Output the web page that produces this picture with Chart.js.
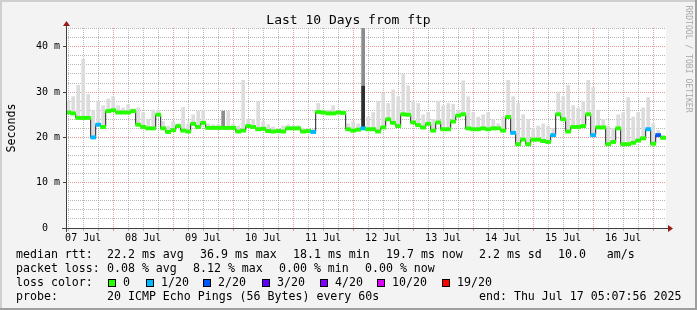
<!DOCTYPE html>
<html>
<head>
<meta charset="utf-8">
<script src="https://cdn.jsdelivr.net/npm/chart.js@4.4.1/dist/chart.umd.min.js"></script>
<style>
  html, body { margin: 0; padding: 0; background: #f3f3f3; overflow: hidden; }
  #wrap { position: relative; width: 697px; height: 310px; }
  #chart { position: absolute; left: 0; top: 0; }
  .t { position: absolute; font-family: 'DejaVu Sans Mono', monospace; font-size: 11.6px; line-height: 14px; white-space: pre; color: #000; }
  .box { position: absolute; width: 6px; height: 6px; border: 1px solid #000; top: 279px; }
</style>
</head>
<body>
<div id="wrap">
  <canvas id="chart" width="697" height="310"></canvas>
  <div class="t" style="left:0;width:697px;top:11.5px;text-align:center;font-size:13px;line-height:16px">Last 10 Days from ftp</div>
  <div class="t" style="left:-19px;top:120.5px;width:60px;text-align:center;transform:rotate(-90deg)">Seconds</div>
  <div class="t" style="left:629px;top:54px;width:120px;text-align:center;font-size:8.1px;line-height:10px;color:#a8a8a8;transform:rotate(90deg)">RRDTOOL / TOBI OETIKER</div>

  <div class="t" style="left:16px;top:247.3px">median rtt:</div>
  <div class="t" style="left:107px;top:247.3px">22.2 ms avg</div>
  <div class="t" style="left:200px;top:247.3px">36.9 ms max</div>
  <div class="t" style="left:293px;top:247.3px">18.1 ms min</div>
  <div class="t" style="left:386px;top:247.3px">19.7 ms now</div>
  <div class="t" style="left:479px;top:247.3px">2.2 ms sd</div>
  <div class="t" style="left:558px;top:247.3px">10.0   am/s</div>

  <div class="t" style="left:16px;top:261.3px">packet loss:</div>
  <div class="t" style="left:107px;top:261.3px">0.08 % avg</div>
  <div class="t" style="left:193px;top:261.3px">8.12 % max</div>
  <div class="t" style="left:279px;top:261.3px">0.00 % min</div>
  <div class="t" style="left:365px;top:261.3px">0.00 % now</div>

  <div class="t" style="left:16px;top:275.3px">loss color:</div>
  <div id="lossLegend"></div>

  <div class="t" style="left:16px;top:289.3px">probe:</div>
  <div class="t" style="left:107px;top:289.3px">20 ICMP Echo Pings (56 Bytes) every 60s</div>
  <div class="t" style="left:479px;top:289.3px">end: Thu Jul 17 05:07:56 2025</div>
</div>
<script>
"use strict";

// hours since 07 Jul 00:00
const hours = [6,8,10,12,14,16,18,20,22,24,26,28,30,32,34,36,38,40,42,44,
  46,48,50,52,54,56,58,60,62,64,66,68,70,72,74,76,78,80,82,84,
  86,88,90,92,94,96,98,100,102,104,106,108,110,112,114,116,118,120,122,124,
  126,128,130,132,134,136,138,140,142,144,146,148,150,152,154,156,158,160,162,164,
  166,168,170,172,174,176,178,180,182,184,186,188,190,192,194,196,198,200,202,204,
  206,208,210,212,214,216,218,220,222,224,226,228,230,232,234,236,238,240,242,244];

// median rtt (ms)
const median = [25.5,25.3,24.3,24.3,24.3,20.0,22.8,22.3,25.8,26.0,
  25.5,25.5,25.5,25.8,22.8,22.3,22.0,22.0,25.0,22.0,
  21.2,21.6,22.5,21.5,21.3,23.0,22.3,23.2,22.1,22.1,
  22.1,22.1,22.1,22.1,21.3,21.5,22.5,22.3,21.8,21.9,
  21.4,21.3,21.4,21.3,22.0,22.0,22.0,21.3,21.4,21.2,
  25.6,25.5,25.3,25.3,25.5,25.4,21.8,21.5,21.7,22.0,
  21.8,21.8,21.3,22.2,24.0,23.2,22.5,25.1,25.0,23.3,
  22.7,22.2,23.0,21.5,23.3,21.8,21.8,23.5,24.8,25.1,
  22.0,21.8,21.8,22.0,21.8,22.0,22.0,21.5,24.5,21.0,
  18.5,19.5,18.5,19.5,19.5,19.2,19.0,20.5,25.1,24.0,
  21.3,22.3,22.3,22.5,25.1,20.5,22.2,22.2,18.5,19.0,
  22.0,18.5,18.5,18.8,19.3,19.8,21.8,18.6,20.5,19.9];

// top of the smoke (max rtt, ms)
const smokeMax = [28.0,29.0,31.5,37.2,29.5,26.0,28.0,27.0,28.5,29.0,
  27.0,26.5,27.2,26.3,26.5,25.5,24.0,26.0,26.0,23.5,
  22.5,23.5,23.0,26.6,23.0,25.0,25.8,26.0,23.0,22.8,
  22.8,23.5,25.8,23.0,22.5,32.6,24.0,24.0,28.0,23.5,
  22.8,22.3,22.0,22.5,22.8,22.6,22.6,22.0,22.0,21.8,
  27.5,26.0,26.0,27.0,26.0,26.0,23.0,23.5,23.0,44.2,
  24.5,25.5,28.0,29.8,27.5,30.5,29.0,34.0,31.4,28.0,
  27.5,25.0,25.5,24.0,28.0,27.0,27.5,27.3,26.0,32.5,
  29.0,25.5,24.5,25.0,25.5,24.0,23.0,24.5,32.6,29.0,
  27.5,25.0,24.0,22.0,22.5,23.0,22.5,22.0,30.0,29.0,
  31.5,27.0,26.5,28.0,32.6,31.0,26.0,24.0,22.5,22.0,
  25.0,25.5,28.8,24.5,25.5,26.5,28.8,23.0,21.5,20.5];

// lost pings out of 20
const loss = [0,0,0,0,0,1,1,0,0,0,
  0,0,0,0,0,0,0,0,0,0,
  0,0,0,0,0,0,0,0,0,0,
  0,0,0,0,0,0,0,0,0,0,
  0,0,0,0,0,0,0,0,0,1,
  0,0,0,0,0,0,0,0,0,1,
  0,0,0,0,0,0,0,0,0,0,
  0,0,0,0,0,0,0,0,0,0,
  0,0,0,0,0,0,0,0,0,1,
  0,0,0,0,0,0,0,1,0,0,
  0,0,0,0,0,1,0,0,0,0,
  0,0,0,0,0,0,1,0,2,0];

// denser smoke
const midSmokeHours = [68, 124];
const midSmokeLow = [22.1, 22.0];
const midSmokeHigh = [25.8, 44.2];
const darkSmokeHours = [124];
const darkSmokeLow = [22.0];
const darkSmokeHigh = [31.3];

const dayLabels = ['07 Jul','08 Jul','09 Jul','10 Jul','11 Jul','12 Jul','13 Jul','14 Jul','15 Jul','16 Jul'];
const lossBuckets = [0, 1, 2, 3, 4, 10, 19];
const lossLabels = ['0','1/20','2/20','3/20','4/20','10/20','19/20'];
const lossColors = ['#26ff00','#00b8ff','#0059ff','#5e00ff','#7e00ff','#dd00ff','#ff0000'];

const X_MIN = 5.13, X_MAX = 245.13;   // 07 Jul 05:07 .. 17 Jul 05:07
const Y_MAX = 44.15;
const BAND = 0.36;
const MAJOR = 'rgba(225,120,120,0.75)';
const MINOR = 'rgba(160,160,160,0.75)';
const FONT = "'DejaVu Sans Mono', monospace";

function lossColor(n) {
    let c = lossColors[0];
    lossBuckets.forEach(function (b, i) { if (n >= b) c = lossColors[i]; });
    return c;
}

// loss colour legend
(function () {
    const boxX = [108, 146, 203, 262, 320, 377, 442];
    const holder = document.getElementById('lossLegend');
    lossLabels.forEach(function (lab, i) {
        const b = document.createElement('div');
        b.className = 'box';
        b.style.left = boxX[i] + 'px';
        b.style.background = lossColors[i];
        holder.appendChild(b);
        const t = document.createElement('div');
        t.className = 't';
        t.style.left = (boxX[i] + 15) + 'px';
        t.style.top = '275.3px';
        t.textContent = lab;
        holder.appendChild(t);
    });
})();

const gridHours = [];
for (let h = 6; h <= 240; h += 6) gridHours.push(h);
const gridMs = [];
for (let v = 0; v <= 44; v += 2) gridMs.push(v);

const framePlugin = {
    id: 'frame',
    beforeDraw(chart) {
        const ctx = chart.ctx, a = chart.chartArea, w = chart.width, h = chart.height;
        ctx.save();
        ctx.fillStyle = '#f3f3f3';
        ctx.fillRect(0, 0, w, h);
        ctx.fillStyle = '#cfcfcf';
        ctx.fillRect(0, 0, w, 2);
        ctx.fillRect(0, 0, 2, h);
        ctx.fillStyle = '#9e9e9e';
        ctx.fillRect(0, h - 2, w, 2);
        ctx.fillRect(w - 2, 0, 2, h);
        ctx.fillStyle = '#ffffff';
        ctx.fillRect(a.left, a.top, a.right - a.left, a.bottom - a.top);
        ctx.restore();
    },
    afterDraw(chart) {
        const ctx = chart.ctx, a = chart.chartArea;
        const yb = a.bottom + 0.5, xl = a.left + 0.5;
        ctx.save();
        ctx.strokeStyle = '#404040';
        ctx.lineWidth = 1;
        ctx.beginPath();
        ctx.moveTo(a.left - 4, yb);
        ctx.lineTo(a.right + 3, yb);
        ctx.moveTo(xl, a.bottom + 4);
        ctx.lineTo(xl, a.top - 3);
        ctx.stroke();
        ctx.fillStyle = '#9a1a1a';
        ctx.beginPath();
        ctx.moveTo(a.right + 2, yb - 3.5);
        ctx.lineTo(a.right + 7, yb);
        ctx.lineTo(a.right + 2, yb + 3.5);
        ctx.closePath();
        ctx.fill();
        ctx.beginPath();
        ctx.moveTo(xl - 3.5, a.top - 2);
        ctx.lineTo(xl, a.top - 7);
        ctx.lineTo(xl + 3.5, a.top - 2);
        ctx.closePath();
        ctx.fill();
        ctx.restore();
    }
};

const smokeData = hours.map(function (h, i) { return {x: h, y: [median[i], smokeMax[i]]}; });
const bandData = hours.map(function (h, i) { return {x: h, y: [median[i] - BAND, median[i] + BAND]}; });
const lineData = hours.map(function (h, i) { return {x: h, y: median[i]}; });
const midData = midSmokeHours.map(function (h, i) { return {x: h, y: [midSmokeLow[i], midSmokeHigh[i]]}; });
const darkData = darkSmokeHours.map(function (h, i) { return {x: h, y: [darkSmokeLow[i], darkSmokeHigh[i]]}; });

new Chart(document.getElementById('chart'), {
    type: 'bar',
    data: {
        datasets: [
            { label: 'smoke', data: smokeData, backgroundColor: '#dcdcdc', barThickness: 3, grouped: false, order: 5 },
            { label: 'smoke mid', data: midData, backgroundColor: '#8c8c8c', barThickness: 3, grouped: false, order: 4 },
            { label: 'smoke dark', data: darkData, backgroundColor: '#2e2e2e', barThickness: 3, grouped: false, order: 3 },
            { type: 'line', label: 'median', data: lineData, borderColor: '#202020', borderWidth: 1,
              pointRadius: 0, stepped: 'middle', fill: false, order: 2 },
            { label: 'loss', data: bandData, grouped: false, barPercentage: 1, categoryPercentage: 1, order: 1,
              backgroundColor: function (c) { return lossColor(loss[c.dataIndex]); } }
        ]
    },
    options: {
        responsive: false,
        maintainAspectRatio: false,
        devicePixelRatio: 1,
        animation: false,
        layout: { padding: { left: 0, top: 28, right: 31, bottom: 42 } },
        plugins: { legend: { display: false }, tooltip: { enabled: false }, title: { display: false } },
        scales: {
            x: {
                type: 'linear', min: X_MIN, max: X_MAX, offset: false,
                afterBuildTicks: function (s) { s.ticks = gridHours.map(function (v) { return {value: v}; }); },
                afterFit: function (s) { s.height = 40; },
                grid: {
                    offset: false, lineWidth: 1, drawTicks: true, tickLength: 3,
                    color: function (c) { return c.tick && c.tick.value % 24 === 0 ? MAJOR : MINOR; },
                    tickColor: function (c) { return c.tick && c.tick.value % 24 === 0 ? MAJOR : MINOR; }
                },
                border: { display: false, dash: [1, 1] },
                ticks: {
                    autoSkip: false, maxRotation: 0, padding: 1, color: '#000',
                    font: { family: FONT, size: 10 },
                    callback: function (v) { return v % 24 === 12 ? dayLabels[Math.floor(v / 24)] : ''; }
                }
            },
            y: {
                min: 0, max: Y_MAX,
                afterBuildTicks: function (s) { s.ticks = gridMs.map(function (v) { return {value: v}; }); },
                afterFit: function (s) { s.width = 66; },
                grid: {
                    lineWidth: 1, drawTicks: true, tickLength: 3,
                    color: function (c) { return c.tick && c.tick.value % 10 === 0 ? MAJOR : MINOR; },
                    tickColor: function (c) { return c.tick && c.tick.value % 10 === 0 ? '#404040' : 'rgba(0,0,0,0)'; }
                },
                border: { display: false, dash: [1, 1] },
                ticks: {
                    padding: 3, color: '#000', autoSkip: false,
                    font: { family: FONT, size: 10 },
                    callback: function (v) { return v % 10 === 0 ? (v === 0 ? '0  ' : v + ' m') : ''; }
                }
            }
        }
    },
    plugins: [framePlugin]
});
</script>
</body>
</html>
